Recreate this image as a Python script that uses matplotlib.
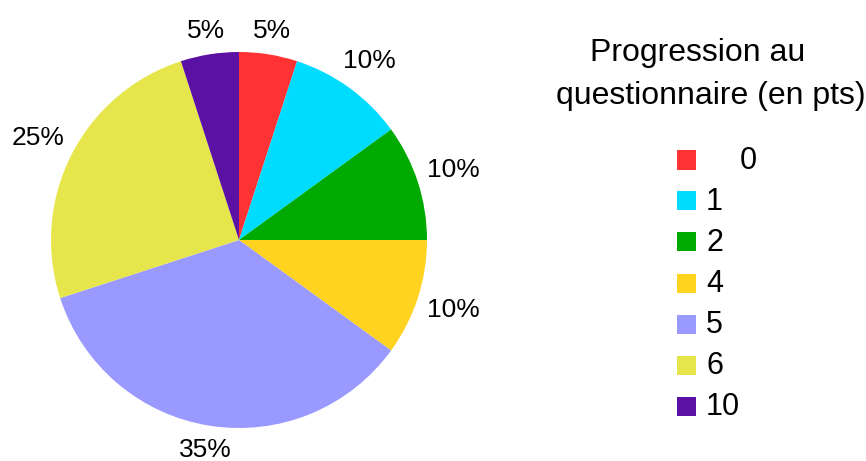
import matplotlib
matplotlib.use("Agg")
import numpy as np
import matplotlib.pyplot as plt
from matplotlib.patches import Rectangle

plt.rcParams['font.family'] = ['Liberation Sans', 'DejaVu Sans']

# Points gained on the questionnaire and share of respondents
categories = ["0", "1", "2", "4", "5", "6", "10"]
shares = [5, 10, 10, 10, 35, 25, 5]
colors = ["#FF3333", "#00DCFF", "#00AA00", "#FFD320", "#9999FF", "#E6E64C", "#5C11A5"]
legend_title = ["Progression au", "questionnaire (en pts)"]

W, H = 866, 461
fig = plt.figure(figsize=(W / 100, H / 100), dpi=100)

# Pie axes: center (239, 240) px, radius 188 px
cx, cy, r = 239, 240, 188
ax = fig.add_axes([(cx - r) / W, (H - cy - r) / H, 2 * r / W, 2 * r / H])
wedges, _, autotexts = ax.pie(
    shares, colors=colors, startangle=90, counterclock=False,
    autopct=lambda p: f"{p:.0f}%", pctdistance=1.17,
    wedgeprops=dict(linewidth=0), textprops=dict(fontsize=19, color="black"),
)
ax.set_xlim(-1, 1)
ax.set_ylim(-1, 1)
ax.set_aspect("equal")

# Place each percentage just outside its wedge, its box touching a circle
renderer = fig.canvas.get_renderer()
gap = 1.045
for w, t in zip(wedges, autotexts):
    th = np.deg2rad((w.theta1 + w.theta2) / 2)
    t.set_ha("center")
    t.set_va("center")
    bb = t.get_window_extent(renderer)
    half = abs(np.cos(th)) * bb.width / 2 + abs(np.sin(th)) * bb.height / 2
    d = gap + half / r
    t.set_position((d * np.cos(th), d * np.sin(th)))
    t.set_clip_on(False)

# Legend title
fig.text(698 / W, 1 - 53 / H, legend_title[0], fontsize=23, ha="center", va="center")
fig.text(711 / W, 1 - 96 / H, legend_title[1], fontsize=23, ha="center", va="center")

# Legend entries
sq = 19
y0, step = 160, 41
for i, (lab, col) in enumerate(zip(categories, colors)):
    yc = y0 + i * step
    fig.add_artist(Rectangle((677 / W, 1 - (yc + sq / 2) / H), sq / W, sq / H,
                             transform=fig.transFigure, facecolor=col, edgecolor="none"))
    tx = 740 if lab == "0" else 706
    fig.text(tx / W, 1 - (yc + 1) / H, lab, fontsize=22, ha="left", va="center")

fig.savefig("out.png", dpi=100)
